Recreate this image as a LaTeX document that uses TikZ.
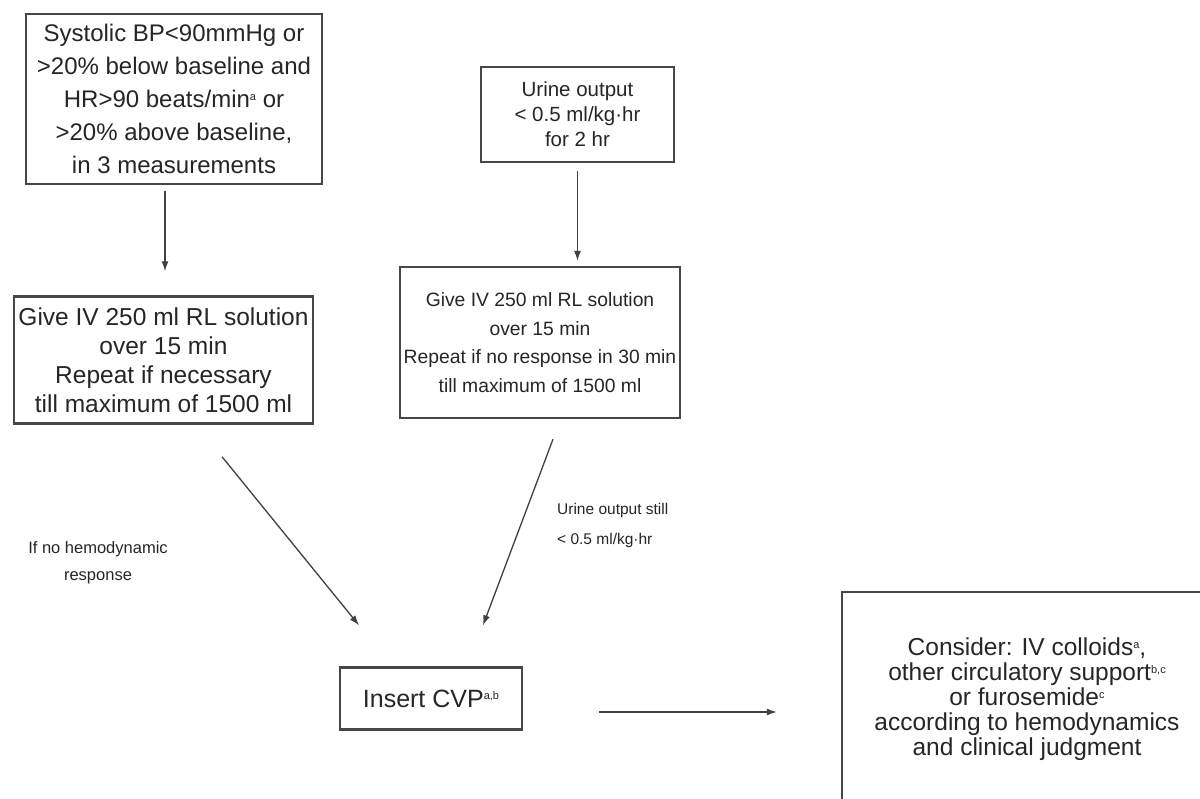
\documentclass[tikz,border=0pt]{standalone}
\usepackage{fontspec}
\setmainfont{Liberation Sans}
\usetikzlibrary{arrows.meta}

% small raised footnote marks
\newcommand{\fnmark}[1]{\raisebox{0.55ex}{\fontsize{11}{11}\selectfont #1}}

\tikzset{
    stepbox/.style={draw=black!72, line width=2.4pt, align=center,
        text=black!85, inner sep=2pt},
    note/.style={text=black!85, inner sep=0pt},
    arr/.style={draw=black!75, line width=1.3pt,
        -{Latex[length=10pt,width=7pt]}}
}

\begin{document}
\begin{tikzpicture}[x=1pt,y=-1pt]
    \clip (0,0) rectangle (1200,799);
    \fill[white] (0,0) rectangle (1200,799);

    % boxes
    \node[stepbox, minimum width=296pt, minimum height=170pt,
        font=\fontsize{24}{33}\selectfont] (sbp) at (174,99)
        {Systolic BP<90mmHg or\\ >20\% below baseline and\\
         HR>90 beats/min\fnmark{a} or\\ >20\% above baseline,\\
         in 3 measurements};
    \node[stepbox, minimum width=299pt, minimum height=127pt,
        font=\fontsize{24.5}{29}\selectfont] (rlone) at (163.5,360)
        {Give IV 250 ml RL solution\\ over 15 min\\
         Repeat if necessary\\ till maximum of 1500 ml};
    \node[stepbox, minimum width=193pt, minimum height=95pt,
        font=\fontsize{20.5}{25}\selectfont] (urine) at (577.5,114.5)
        {Urine output\\ < 0.5 ml/kg·hr\\ for 2 hr};
    \node[stepbox, minimum width=280pt, minimum height=151pt,
        font=\fontsize{19.3}{28.5}\selectfont] (rltwo) at (540,342.5)
        {Give IV 250 ml RL solution\\ over 15 min\\
         Repeat if no response in 30 min\\ till maximum of 1500 ml};
    \node[stepbox, minimum width=182pt, minimum height=62pt,
        font=\fontsize{25}{30}\selectfont] (cvp) at (431,698.5)
        {Insert CVP\fnmark{a,b}};
    \node[stepbox, minimum width=370pt, minimum height=215pt,
        font=\fontsize{24.5}{25}\selectfont] (consider) at (1027,699.5)
        {Consider: IV colloids\fnmark{a},\\
         other circulatory support\fnmark{b,c}\\
         or furosemide\fnmark{c}\\
         according to hemodynamics\\ and clinical judgment};

    % labels
    \node[note, align=center, font=\fontsize{16.5}{27}\selectfont]
        (nohemo) at (98,563) {If no hemodynamic\\ response};
    \node[note, align=left, anchor=west, font=\fontsize{15.5}{30}\selectfont]
        (still) at (557,525) {Urine output still\\ < 0.5 ml/kg·hr};

    % connectors
    \draw[arr, shorten <=6pt, shorten >=24pt]
        ([xshift=-9pt]sbp.south) -- ([xshift=-9pt]sbp.south |- rlone.north);
    \draw[arr, shorten <=8pt, shorten >=5pt]
        (urine.south) -- (urine.south |- rltwo.north);
    \draw[arr] ([shift={(58.5,32)}]rlone.south) -- ([shift={(-72,-41)}]cvp.north);
    \draw[arr] ([shift={(13,20)}]rltwo.south) -- ([shift={(52,-41)}]cvp.north);
    \draw[arr] ([shift={(76,13.5)}]cvp.east) -- ([shift={(-64,12.5)}]consider.west);
\end{tikzpicture}
\end{document}
